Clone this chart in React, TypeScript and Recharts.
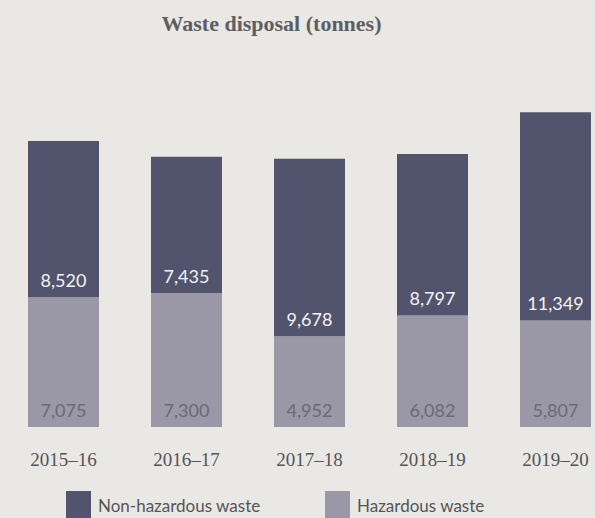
import { BarChart, Bar, XAxis, YAxis, LabelList } from "recharts";

const YEARS = ["2015–16", "2016–17", "2017–18", "2018–19", "2019–20"];
const HAZARDOUS = [7075, 7300, 4952, 6082, 5807];
const NON_HAZARDOUS = [8520, 7435, 9678, 8797, 11349];

const DARK = "#52546e";
const LIGHT = "#9a98a6";
const BG = "#e9e8e4";

const data = YEARS.map((year, i) => ({
  year,
  hazardous: HAZARDOUS[i],
  nonHazardous: NON_HAZARDOUS[i],
}));

const fmt = (v: number) => v.toLocaleString("en-US");

const makeLabel = (color: string) => (props: any) => {
  const { x, y, width, height, value } = props;
  return (
    <text
      x={x + width / 2}
      y={y + height - 10}
      textAnchor="middle"
      fill={color}
      fontFamily="Lato, sans-serif"
      fontSize={18}
    >
      {fmt(value)}
    </text>
  );
};

const YearTick = (props: any) => {
  const { x, y, payload } = props;
  return (
    <text
      x={x}
      y={y + 31}
      textAnchor="middle"
      fill="#555558"
      fontFamily="'Liberation Serif', serif"
      fontSize={19}
    >
      {payload.value}
    </text>
  );
};

const LEGEND = [
  { label: "Non-hazardous waste", color: DARK, left: 66 },
  { label: "Hazardous waste", color: LIGHT, left: 325 },
];

export default function App() {
  return (
    <div
      style={{
        position: "absolute",
        left: 0,
        top: 0,
        width: 595,
        height: 518,
        overflow: "hidden",
        background: BG,
      }}
    >
      <div
        style={{
          position: "absolute",
          left: 0,
          top: 11,
          width: 543,
          textAlign: "center",
          fontFamily: "'Liberation Serif', serif",
          fontWeight: 700,
          fontSize: 22,
          color: "#5e5e62",
        }}
      >
        Waste disposal (tonnes)
      </div>
      <BarChart
        width={620}
        height={518}
        data={data}
        margin={{ top: 106, right: 3, left: 2, bottom: 51 }}
        barSize={71}
      >
        <XAxis dataKey="year" axisLine={false} tickLine={false} height={40} tick={<YearTick />} interval={0} />
        <YAxis hide domain={[0, 17500]} />
        <Bar dataKey="hazardous" stackId="a" fill={LIGHT} isAnimationActive={false}>
          <LabelList dataKey="hazardous" content={makeLabel("#6a6978")} />
        </Bar>
        <Bar dataKey="nonHazardous" stackId="a" fill={DARK} isAnimationActive={false}>
          <LabelList dataKey="nonHazardous" content={makeLabel("#f2f2f2")} />
        </Bar>
      </BarChart>
      {LEGEND.map((s) => (
        <div
          key={s.label}
          style={{ position: "absolute", left: s.left, top: 491, display: "flex", alignItems: "flex-start" }}
        >
          <span style={{ width: 25, height: 30, background: s.color, display: "inline-block" }} />
          <span
            style={{
              marginLeft: 7,
              marginTop: 4,
              fontFamily: "Lato, sans-serif",
              fontSize: 17,
              color: "#555558",
              whiteSpace: "nowrap",
            }}
          >
            {s.label}
          </span>
        </div>
      ))}
    </div>
  );
}
